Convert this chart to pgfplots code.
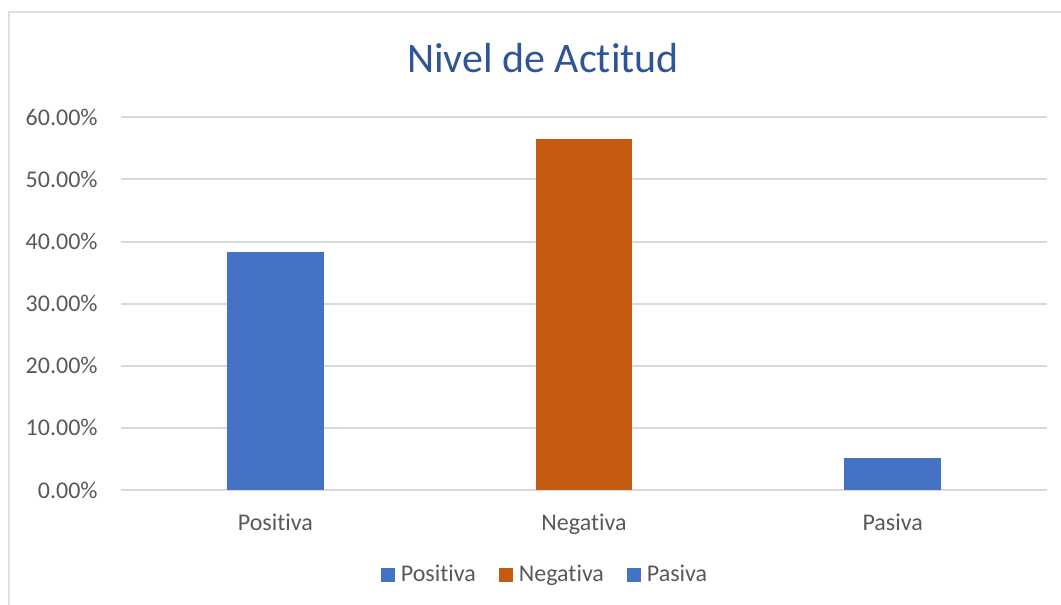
\documentclass[border=0pt]{standalone}
\usepackage{pgfplots}
\pgfplotsset{compat=1.18}
\usepackage{fontspec}
\setmainfont[Ligatures=NoCommon,RawFeature={-liga;-dlig}]{Carlito}
\definecolor{barblue}{HTML}{4472C4}
\definecolor{barorange}{HTML}{C55A11}
\definecolor{txtgray}{HTML}{595959}
\definecolor{gridgray}{HTML}{D9D9D9}
\definecolor{titleblue}{HTML}{2F5597}
\begin{document}
\begin{tikzpicture}
\path[use as bounding box] (0,0) rectangle (530.5pt,-302.5pt);
\draw[gray!25, line width=1pt] (4.5pt,-302.5pt) -- (4.5pt,-6pt) -- (530.5pt,-6pt);
\begin{axis}[
  at={(60.5pt,-245pt)}, anchor=south west,
  scale only axis, width=463pt, height=186.35pt,
  xmin=-0.5, xmax=2.5, ymin=0, ymax=60,
  axis line style={draw=none},
  ytick={0,10,20,30,40,50,60},
  yticklabels={0.00\%,10.00\%,20.00\%,30.00\%,40.00\%,50.00\%,60.00\%},
  xtick={0,1,2}, xticklabels={Positiva,Negativa,Pasiva},
  major tick length=0pt,
  ymajorgrids, grid style={gridgray, line width=1pt},
  yticklabel style={anchor=east, inner sep=0pt, xshift=-11.5pt, font=\fontsize{12}{14}\selectfont, text=txtgray},
  xticklabel style={anchor=north, inner sep=0pt, yshift=-12pt, font=\fontsize{12}{14}\selectfont, text=txtgray},
  /pgf/number format/assume math mode=true,
  title={Nivel de Actitud},
  title style={at={(0.4557,1.088)}, anchor=base, inner sep=0pt, font=\fontsize{21}{25}\selectfont, text=titleblue},
  ybar, bar width=0.313, bar shift=0pt,
  legend columns=3,
  legend style={at={(0.459,-0.228)}, anchor=center, draw=none, fill=none,
    font=\fontsize{12}{14}\selectfont, text=txtgray, inner sep=0pt,
    /tikz/every odd column/.append style={column sep=1pt},
    /tikz/every even column/.append style={column sep=9.5pt}},
  legend image code/.code={\fill[#1] (0pt,-3.5pt) rectangle (7pt,3.5pt);},
  clip=false,
]
\draw[gridgray, line width=1pt] (axis cs:-0.5,0) -- (axis cs:2.5,0);
\addplot[fill=barblue, draw=none] coordinates {(0,38.26)};
\addlegendentry{Positiva}
\addplot[fill=barorange, draw=none] coordinates {(1,56.52)};
\addlegendentry{Negativa}
\addplot[fill=barblue, draw=none] coordinates {(2,5.22)};
\addlegendentry{Pasiva}
\end{axis}
\end{tikzpicture}
\end{document}
